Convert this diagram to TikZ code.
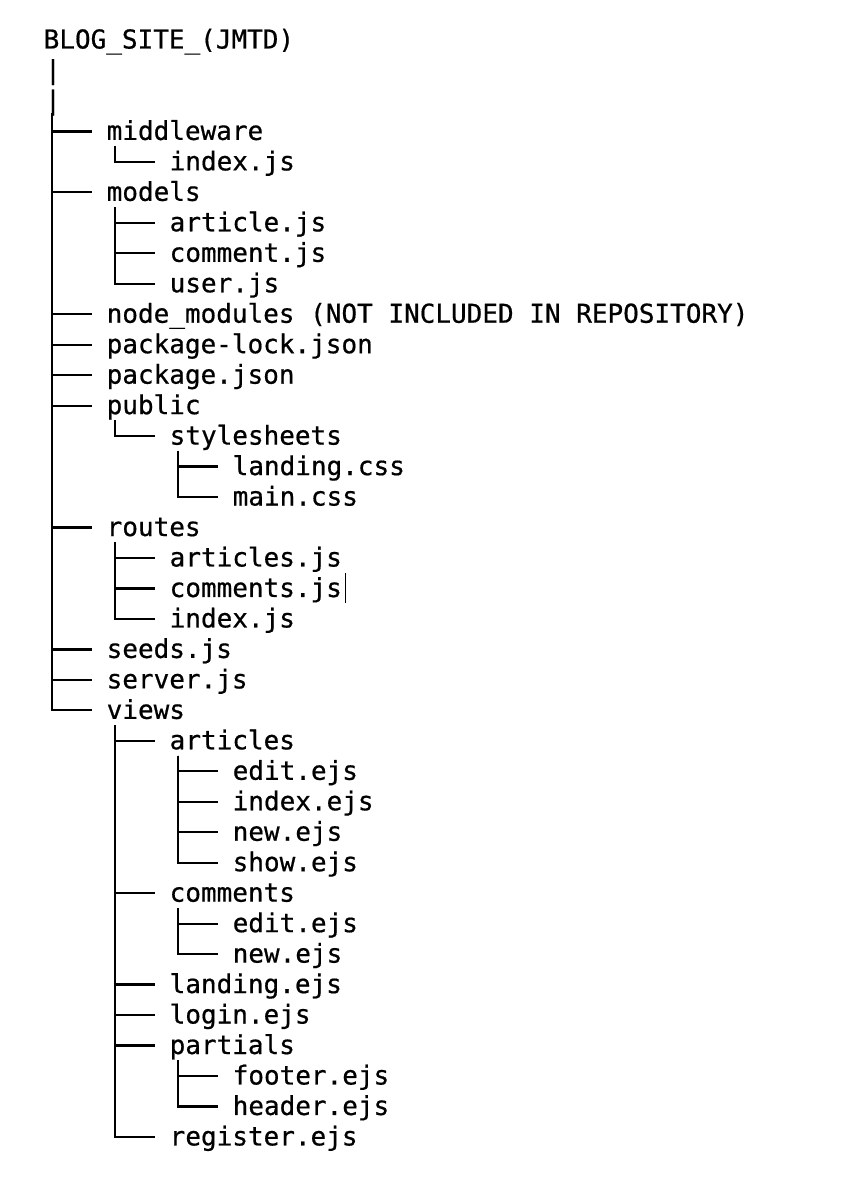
\documentclass[tikz,border=0pt]{standalone}
\usepackage{fontspec}
\setmonofont[FakeBold=0.6]{DejaVu Sans Mono}
\begin{document}
\begin{tikzpicture}[x=1pt,y=-1pt,
  entry/.style={anchor=west,inner sep=0pt,text height=21pt,text depth=4pt,
    font=\ttfamily\fontsize{26}{30}\selectfont},
  branch/.style={draw=black,line width=2.2pt},
  cursorline/.style={draw=black,line width=1.2pt}]
\useasboundingbox[fill=white] (0,0) rectangle (846,1180);
\def\ra{30.47}
\def\la{43.5}\def\lb{106.5}\def\lc{169.5}\def\ld{232.5}
% entries
\node[entry] (root) at (\la,{40+\ra*0}) {BLOG\_SITE\_(JMTD)};
\node[entry] (p1) at (\la+1.5,{40+\ra*1}) {|};
\node[entry] (p2) at (\la+1.5,{40+\ra*2}) {|};
\node[entry] (mw) at (\lb,{40+\ra*3}) {middleware};
\node[entry] (mwi) at (\lc,{40+\ra*4}) {index.js};
\node[entry] (mo) at (\lb,{40+\ra*5}) {models};
\node[entry] (moa) at (\lc,{40+\ra*6}) {article.js};
\node[entry] (moc) at (\lc,{40+\ra*7}) {comment.js};
\node[entry] (mou) at (\lc,{40+\ra*8}) {user.js};
\node[entry] (nm) at (\lb,{40+\ra*9}) {node\_modules (NOT INCLUDED IN REPOSITORY)};
\node[entry] (pl) at (\lb,{40+\ra*10}) {package-lock.json};
\node[entry] (pj) at (\lb,{40+\ra*11}) {package.json};
\node[entry] (pu) at (\lb,{40+\ra*12}) {public};
\node[entry] (ss) at (\lc,{40+\ra*13}) {stylesheets};
\node[entry] (ssl) at (\ld,{40+\ra*14}) {landing.css};
\node[entry] (ssm) at (\ld,{40+\ra*15}) {main.css};
\node[entry] (ro) at (\lb,{40+\ra*16}) {routes};
\node[entry] (roa) at (\lc,{40+\ra*17}) {articles.js};
\node[entry] (roc) at (\lc,{40+\ra*18}) {comments.js};
\node[entry] (roi) at (\lc,{40+\ra*19}) {index.js};
\node[entry] (se) at (\lb,{40+\ra*20}) {seeds.js};
\node[entry] (sv) at (\lb,{40+\ra*21}) {server.js};
\node[entry] (vi) at (\lb,{40+\ra*22}) {views};
\node[entry] (va) at (\lc,{40+\ra*23}) {articles};
\node[entry] (vae) at (\ld,{40+\ra*24}) {edit.ejs};
\node[entry] (vai) at (\ld,{40+\ra*25}) {index.ejs};
\node[entry] (van) at (\ld,{40+\ra*26}) {new.ejs};
\node[entry] (vas) at (\ld,{40+\ra*27}) {show.ejs};
\node[entry] (vc) at (\lc,{40+\ra*28}) {comments};
\node[entry] (vce) at (\ld,{40+\ra*29}) {edit.ejs};
\node[entry] (vcn) at (\ld,{40+\ra*30}) {new.ejs};
\node[entry] (vl) at (\lc,{40+\ra*31}) {landing.ejs};
\node[entry] (vg) at (\lc,{40+\ra*32}) {login.ejs};
\node[entry] (vp) at (\lc,{40+\ra*33}) {partials};
\node[entry] (vpf) at (\ld,{40+\ra*34}) {footer.ejs};
\node[entry] (vph) at (\ld,{40+\ra*35}) {header.ejs};
\node[entry] (vr) at (\lc,{40+\ra*36}) {register.ejs};
% connectors: root level
\foreach \c in {mw,mo,nm,pl,pj,pu,ro,se,sv,vi}
  \draw[branch] ([xshift=7pt,yshift=1pt]p2.south west) |- ([xshift=-15pt]\c.west);
% second level
\foreach \p/\c in {mw/mwi,mo/moa,mo/moc,mo/mou,pu/ss,ro/roa,ro/roc,ro/roi,
                   vi/va,vi/vc,vi/vl,vi/vg,vi/vp,vi/vr,
                   ss/ssl,ss/ssm,va/vae,va/vai,va/van,va/vas,vc/vce,vc/vcn,vp/vpf,vp/vph}
  \draw[branch] ([xshift=8.5pt,yshift=-2pt]\p.south west) |- ([xshift=-15pt]\c.west);
% text cursor
\draw[cursorline] ([xshift=3.5pt,yshift=15pt]roc.east) -- ([xshift=3.5pt,yshift=-15pt]roc.east);
\end{tikzpicture}
\end{document}
